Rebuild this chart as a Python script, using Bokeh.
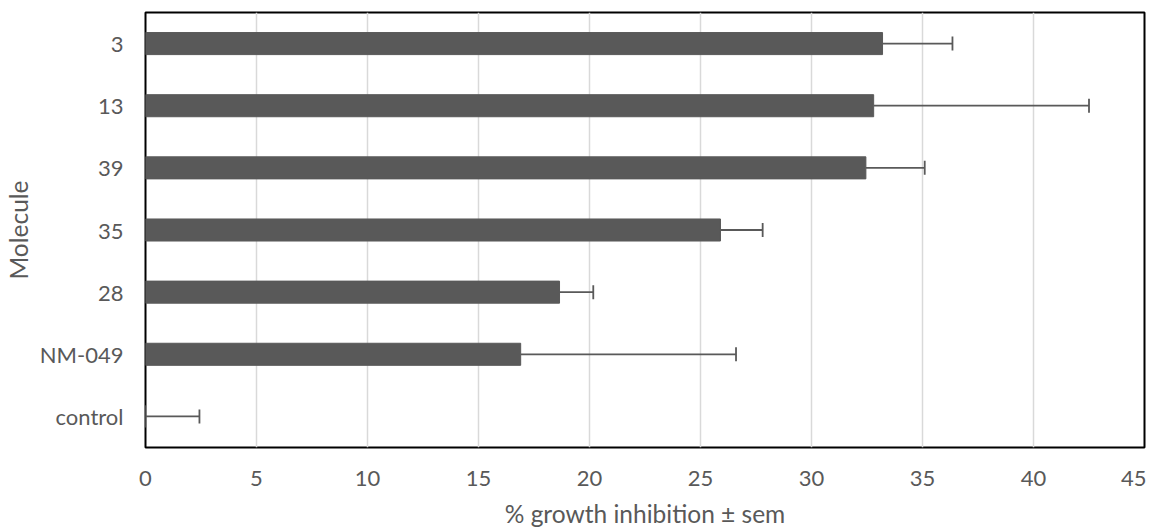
from bokeh.plotting import figure
from bokeh.models import Range1d, FixedTicker, ColumnDataSource, Whisker, TeeHead
from bokeh.embed import file_html
from bokeh.resources import INLINE

molecules = ["control", "NM-049", "28", "35", "39", "13", "3"]
inhibition = [0.0, 16.9, 18.65, 25.9, 32.45, 32.8, 33.2]
sem = [2.43, 9.7, 1.52, 1.9, 2.65, 9.7, 3.15]
x_ticks = [0, 5, 10, 15, 20, 25, 30, 35, 40, 45]

ypos = list(range(len(molecules)))
upper = [v + e for v, e in zip(inhibition, sem)]
src = ColumnDataSource(dict(y=ypos, x=inhibition, upper=upper))

FONT = "Lato"
GREY = "#595959"

p = figure(frame_width=999, frame_height=435, output_backend="svg", toolbar_location=None,
           x_range=Range1d(0, 45), y_range=Range1d(-0.5, len(molecules) - 0.5),
           min_border_left=142, min_border_right=2, min_border_top=12, min_border_bottom=60)

p.hbar(y="y", right="x", left=0, height=0.355, source=src, fill_color=GREY, line_color=GREY)

w = Whisker(base="y", lower="x", upper="upper", dimension="width", source=src,
            line_color=GREY, line_width=1.8,
            upper_head=TeeHead(size=14, line_color=GREY, line_width=1.8), lower_head=None)
p.add_layout(w)

p.xaxis.ticker = FixedTicker(ticks=x_ticks)
p.yaxis.ticker = FixedTicker(ticks=ypos)
p.yaxis.major_label_overrides = {i: m for i, m in enumerate(molecules)}

for ax in (p.xaxis, p.yaxis):
    ax.axis_line_color = None
    ax.major_tick_line_color = None
    ax.minor_tick_line_color = None
    ax.major_label_text_font = FONT
    ax.major_label_text_font_size = "22px"
    ax.major_label_text_color = GREY
    ax.axis_label_text_font = FONT
    ax.axis_label_text_font_size = "24.5px"
    ax.axis_label_text_color = GREY
    ax.axis_label_text_font_style = "normal"

p.xaxis.axis_label = "% growth inhibition ± sem"
p.yaxis.axis_label = "Molecule"
p.xaxis.major_label_standoff = 17
p.yaxis.major_label_standoff = 16
p.xaxis.axis_label_standoff = 10
p.yaxis.axis_label_standoff = 4

p.xgrid.grid_line_color = "#d9d9d9"
p.xgrid.grid_line_width = 1.5
p.ygrid.grid_line_color = None

p.outline_line_color = "black"
p.outline_line_width = 2
p.outline_line_alpha = 1

open("out.html", "w").write(file_html(p, INLINE))
